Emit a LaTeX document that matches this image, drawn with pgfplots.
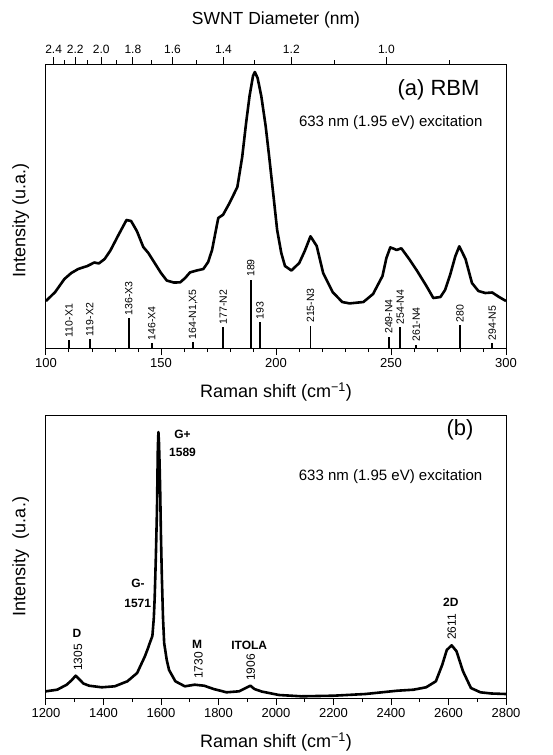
\documentclass[border=0pt]{standalone}
\usepackage{fontspec}
\setmainfont{Liberation Sans}
\usepackage{pgfplots}
\pgfplotsset{compat=1.18}
\begin{document}
\begin{tikzpicture}
\path[use as bounding box] (0,0) rectangle (553pt,-755pt);
\pgfplotsset{
  myax/.style={scale only axis, width=460pt, ytick=\empty,
    axis line style={line width=1pt}, tick align=outside, xtick pos=bottom,
    major tick length=7pt, minor tick length=4pt,
    tick style={black, line width=1pt},
    tick label style={font=\fontsize{13}{15}\selectfont},
    label style={font=\fontsize{18}{21}\selectfont},
    /pgf/number format/assume math mode=true, /pgf/number format/1000 sep={},
    scaled x ticks=false, clip=false}
}
\tikzset{
  pklab/.style={font=\bfseries\fontsize{12}{14}\selectfont, inner sep=0pt},
  pknum/.style={font=\fontsize{12}{14}\selectfont, rotate=90, anchor=west, inner sep=0pt}
}
% ---------------- panel (a) ----------------
\begin{axis}[myax, at={(46pt,-348pt)}, anchor=south west, height=284pt,
  xmin=100, xmax=300, ymin=0, ymax=284,
  xtick={100,150,200,250,300}, minor xtick={110,120,...,290},
  xlabel={Raman shift (cm\textsuperscript{−1})}, ylabel={Intensity (u.a.)},
  xlabel style={at={(axis description cs:0.5,-0.155)}, anchor=center},
  ylabel style={at={(axis description cs:-0.055,0.45)}, anchor=center}]
\addplot[black, line width=2.6pt, line join=round] table {
x y
100 47
104 56
108 69
111 75
114 79
118 82
121 85.5
123 84.6
125.5 89
128 97.5
131.5 113
135 128
137 127
139.5 117
142.3 101
144.5 95
146.7 87
150 75
152.5 67.5
155.5 65.5
158.3 65.6
160.5 70
162.6 75.6
165.5 77.5
168.4 79
170.5 86
172.2 98
174.9 130
177 133.3
179.8 145
183.2 161
185.3 191
187 225
188.5 252
190 272
190.8 276
192 270
193.6 252
195.5 222
197 192
199 150
200.5 118
202.3 95
203.9 82
206.7 77.5
210.1 85
212.5 97
215 111.7
217.7 102
220.5 75
224.6 56
228.8 46
232 44.6
238 46
242.2 54
246.3 72
248 90
249.7 100.6
251.5 99
252.4 98
254.5 99.7
257.9 89
261.3 77.3
265.4 62
268.4 50
271.5 51
273.5 58
275.6 72.3
278 92
279.7 101.7
282.4 89
285.2 65
288 57
291 55
294 55.5
297 51
300 47
};
\addplot[ycomb, black, line width=1.8pt, point meta=explicit symbolic,
  nodes near coords,
  nodes near coords style={rotate=90, anchor=west, inner sep=2pt,
    font=\fontsize{10.5}{12}\selectfont, black}] table[meta=label] {
x y label
110 8 110-X1
119 9 119-X2
136 29.7 136-X3
146 4.7 146-X4
164 5.7 164-N1,X5
177 20.7 177-N2
189 68.3 189
193 25.7 193
215 22.3 215-N3
249 11.3 249-N4
254 20.7 254-N4
261 3.5 261-N4
280 23 280
294 4.7 294-N5
};
\node[anchor=east, font=\fontsize{22}{26}\selectfont] at (axis cs:290,258) {(a) RBM};
\node[anchor=east, font=\fontsize{15}{18}\selectfont] at (axis cs:291.3,225) {633 nm (1.95 eV) excitation};
\end{axis}
% top diameter axis
\begin{axis}[at={(46pt,-348pt)}, anchor=south west, scale only axis,
  width=460pt, height=284pt, xmin=100, xmax=300, ymin=0, ymax=1,
  axis x line*=top, axis y line=none, tick align=outside,
  axis line style={line width=1pt},
  major tick length=7pt, minor tick length=4pt,
  tick style={black, line width=1pt},
  xtick={103.333,112.727,124,137.778,155,177.143,206.667,248},
  xticklabels={2.4,2.2,2.0,1.8,1.6,1.4,1.2,1.0},
  minor xtick={107.826,118.095,130.526,145.882,165.333,190.769,225.455,275.556},
  tick label style={font=\fontsize{12}{14}\selectfont},
  xlabel={SWNT Diameter (nm)},
  label style={font=\fontsize{17.5}{20}\selectfont},
  xlabel style={at={(axis description cs:0.5,1.155)}, anchor=center}]
\addplot[draw=none] coordinates {(100,0) (300,1)};
\end{axis}
% ---------------- panel (b) ----------------
\begin{axis}[myax, at={(46pt,-698pt)}, anchor=south west, height=283pt,
  xmin=1200, xmax=2800, ymin=0, ymax=283,
  xtick={1200,1400,...,2800}, minor xtick={1300,1500,...,2700},
  xlabel={Raman shift (cm\textsuperscript{−1})}, ylabel={Intensity~ (u.a.)},
  xlabel style={at={(axis description cs:0.5,-0.1555)}, anchor=center},
  ylabel style={at={(axis description cs:-0.055,0.5)}, anchor=center}]
\addplot[black, line width=2.6pt, line join=round] table {
x y
1200 6.7
1239 8.3
1272 13.3
1290 18
1303 22.3
1315 19
1330 14.5
1350 12.3
1394 10.7
1439 11.7
1483 16.7
1517 25
1544 41.7
1555 50
1561 55
1570 62
1575 80
1578 100
1582 140
1586 188
1589 250
1591 266
1593 255
1595 235
1597 210
1600 160
1603 121
1607 80
1611 55
1620 38
1628 28
1650 16.7
1683 11.7
1717 13.3
1750 12.3
1783 9
1828 5.7
1872 6.7
1895 10
1911 12.3
1925 9
1950 6.5
2011 3
2089 1.7
2200 2.3
2311 4
2422 7.3
2478 8.3
2522 10.7
2556 16.7
2578 33
2594 48
2611 52.7
2628 46.7
2650 27
2678 10
2711 5.7
2750 4.5
2800 4
};
\node[pklab] at (axis cs:1308,65) {D};
\node[pknum] at (axis cs:1311,27) {1305};
\node[pklab] at (axis cs:1520,115) {G-};
\node[pklab, anchor=east] at (axis cs:1566,95) {1571};
\node[pklab] at (axis cs:1675,264) {G+};
\node[pklab] at (axis cs:1675,246) {1589};
\node[pklab] at (axis cs:1726,54) {M};
\node[pknum] at (axis cs:1730,19) {1730};
\node[pklab] at (axis cs:1907,53) {ITOLA};
\node[pknum] at (axis cs:1912,17) {1906};
\node[pklab] at (axis cs:2608,96) {2D};
\node[pknum] at (axis cs:2611,58) {2611};
\node[font=\fontsize{22}{26}\selectfont] at (axis cs:2640,268) {(b)};
\node[anchor=east, font=\fontsize{15}{18}\selectfont] at (axis cs:2730,221) {633 nm (1.95 eV) excitation};
\end{axis}
\end{tikzpicture}
\end{document}
